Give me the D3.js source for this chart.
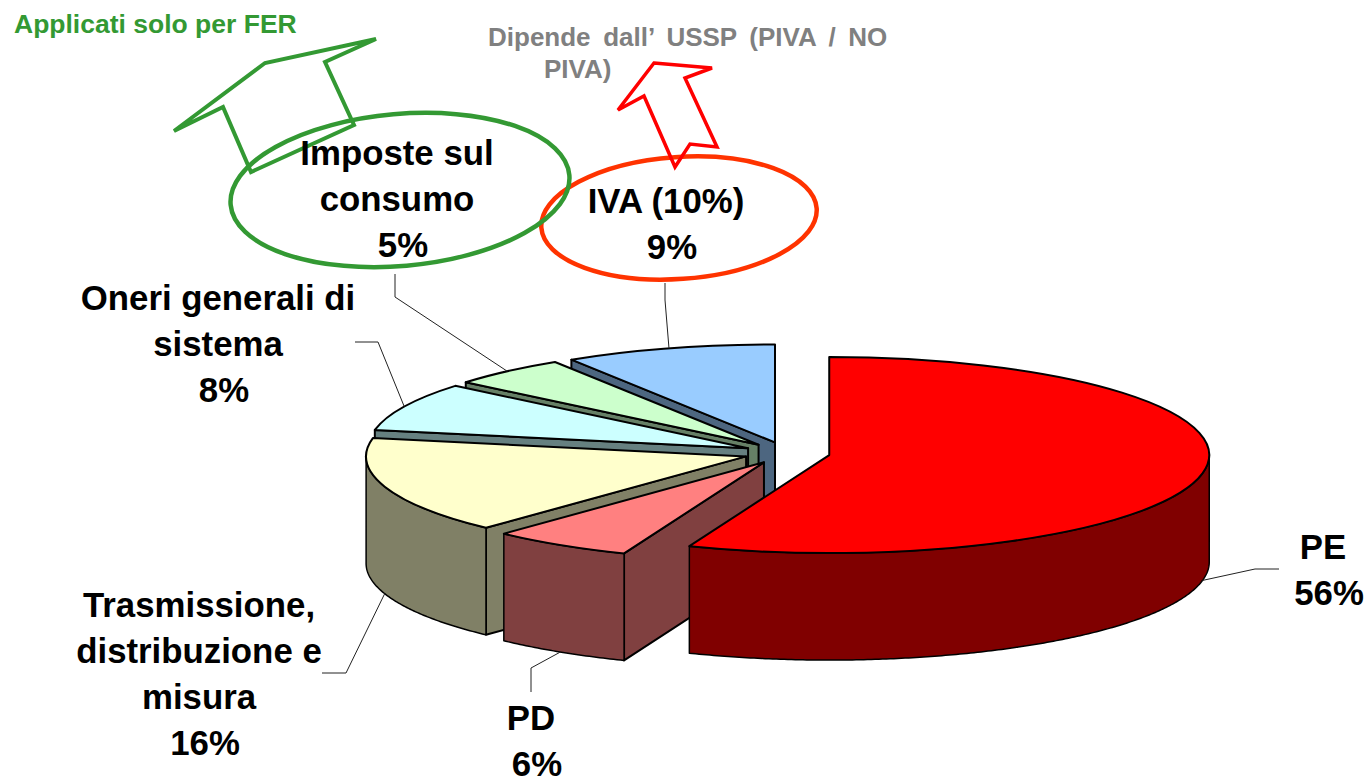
<!DOCTYPE html>
<html>
<head>
<meta charset="utf-8">
<title>Composizione bolletta</title>
<script src="https://d3js.org/d3.v7.min.js"></script>
<style>
    html, body { margin: 0; padding: 0; background: #fff; }
    svg { display: block; }
    text { font-family: "Liberation Sans", Arial, sans-serif; font-weight: bold; }
</style>
</head>
<body>
<div id="chart"></div>
<script>
// Data
const categories = ["PE", "PD", "Trasmissione, distribuzione e misura", "Oneri generali di sistema", "Imposte sul consumo", "IVA (10%)"];
const values = [56, 6, 16, 8, 5, 9];
const labelLines = [
    ["PE"],
    ["PD"],
    ["Trasmissione,", "distribuzione e", "misura"],
    ["Oneri generali di", "sistema"],
    ["Imposte sul", "consumo"],
    ["IVA (10%)"]
];

// Styles
const topColors = ["#ff0000", "#ff8080", "#ffffcc", "#ccffff", "#ccffcc", "#99ccff"];
const sideColors = ["#800000", "#804040", "#808066", "#668080", "#668066", "#4d6680"];

// Layout
const width = 1367, height = 784;
const pieCx = 787, pieCy = 453;
const rx = 380, ry = 98, depth = 107;
const explodeX = 43, explodeY = 11;
const drawOrder = [5, 4, 3, 2, 1, 0];
const labelX = [1323, 531, 199, 218, 397, 666];
const labelY = [559, 730, 617, 310, 165, 213];
const labelStep = 46;
const pctDx = 6;
const elbows = [[1255, 569], [531, 668], [346, 673], [378, 342], [395, 297], [665, 300]];
const leaderEnds = [[1279, 569], [531, 692], [322, 673], [355, 342], [395, 274], [665, 283]];

const svg = d3.select("#chart")
    .append("svg")
    .attr("width", width)
    .attr("height", height);

const slices = d3.pie().sort(null).value(d => d)(values);
const arcTop = d3.arc().innerRadius(0).outerRadius(rx);

function sliceCenter(s) {
    const mid = (s.startAngle + s.endAngle) / 2;
    return [pieCx + explodeX * Math.sin(mid), pieCy - explodeY * Math.cos(mid)];
}

function rimPoint(c, a) {
    return [c[0] + rx * Math.sin(a), c[1] - ry * Math.cos(a)];
}

const pieG = svg.append("g");

drawOrder.forEach(i => {
    const s = slices[i];
    const c = sliceCenter(s);

    // cut face on the start side, only when it faces the viewer
    if (Math.sin(s.startAngle) < -0.001) {
        const r = rimPoint(c, s.startAngle);
        pieG.append("path")
            .attr("d", d3.line()([c, r, [r[0], r[1] + depth], [c[0], c[1] + depth]]) + "Z")
            .attr("fill", sideColors[i])
            .attr("stroke", "#000")
            .attr("stroke-width", 2)
            .attr("stroke-linejoin", "round");
    }

    // outer wall, front half of the rim only
    const a0 = Math.max(s.startAngle, Math.PI / 2);
    const a1 = Math.min(s.endAngle, Math.PI * 1.5);
    if (a1 > a0) {
        const angles = d3.range(a0, a1, 0.01).concat([a1]);
        const wall = d3.area()
            .x(a => rimPoint(c, a)[0])
            .y0(a => rimPoint(c, a)[1])
            .y1(a => rimPoint(c, a)[1] + depth);
        pieG.append("path")
            .attr("d", wall(angles))
            .attr("fill", sideColors[i])
            .attr("stroke", "#000")
            .attr("stroke-width", 1.5)
            .attr("stroke-linejoin", "round");
    }

    // top
    pieG.append("path")
        .attr("d", arcTop(s))
        .attr("transform", `translate(${c[0]},${c[1]}) scale(1,${ry / rx})`)
        .attr("fill", topColors[i])
        .attr("stroke", "#000")
        .attr("stroke-width", 2)
        .attr("stroke-linejoin", "round")
        .attr("vector-effect", "non-scaling-stroke");
});

// Leader lines
slices.forEach((s, i) => {
    const c = sliceCenter(s);
    const mid = (s.startAngle + s.endAngle) / 2;
    const r = rimPoint(c, mid);
    // slices on the front half hang their leader from the bottom of the wall
    const start = Math.cos(mid) < 0 ? [r[0], r[1] + depth] : r;
    svg.append("path")
        .attr("d", d3.line()([start, elbows[i], leaderEnds[i]]))
        .attr("fill", "none")
        .attr("stroke", "#222")
        .attr("stroke-width", 1);
});

// Callout ellipses
svg.append("ellipse")
    .attr("rx", 138).attr("ry", 61)
    .attr("transform", "translate(679,218) rotate(-4)")
    .attr("fill", "none")
    .attr("stroke", "#ff3300")
    .attr("stroke-width", 4.5);

svg.append("ellipse")
    .attr("rx", 170).attr("ry", 76)
    .attr("transform", "translate(400,190) rotate(-5)")
    .attr("fill", "none")
    .attr("stroke", "#339933")
    .attr("stroke-width", 4.5);

// Arrows
const greenArrow = [[174, 131], [265, 63], [376, 39], [325, 62], [354, 125], [251, 172], [223, 107]];
const redArrow = [[654, 63], [712, 68], [685, 78], [717, 147], [690, 144], [675, 167], [644, 96], [618, 110]];

svg.append("path")
    .attr("d", d3.line()(greenArrow) + "Z")
    .attr("fill", "none")
    .attr("stroke", "#339933")
    .attr("stroke-width", 4);

svg.append("path")
    .attr("d", d3.line()(redArrow) + "Z")
    .attr("fill", "none")
    .attr("stroke", "#ff0000")
    .attr("stroke-width", 3.5);

// Slice labels
slices.forEach((s, i) => {
    const lines = labelLines[i];
    const t = svg.append("g")
        .attr("font-size", 34.8)
        .attr("text-anchor", "middle")
        .attr("fill", "#000");
    lines.forEach((line, k) => {
        t.append("text")
            .attr("x", labelX[i])
            .attr("y", labelY[i] + k * labelStep)
            .text(line);
    });
    t.append("text")
        .attr("x", labelX[i] + pctDx)
        .attr("y", labelY[i] + lines.length * labelStep)
        .text(`${values[i]}%`);
});

// Notes
svg.append("text")
    .attr("x", 14)
    .attr("y", 33)
    .attr("font-size", 26.5)
    .attr("fill", "#339933")
    .text("Applicati solo per FER");

svg.append("text")
    .attr("x", 488)
    .attr("y", 46)
    .attr("font-size", 26)
    .attr("word-spacing", 5.4)
    .attr("fill", "#808080")
    .text("Dipende dall’ USSP (PIVA / NO");

svg.append("text")
    .attr("x", 544)
    .attr("y", 78)
    .attr("font-size", 26)
    .attr("fill", "#808080")
    .text("PIVA)");
</script>
</body>
</html>
